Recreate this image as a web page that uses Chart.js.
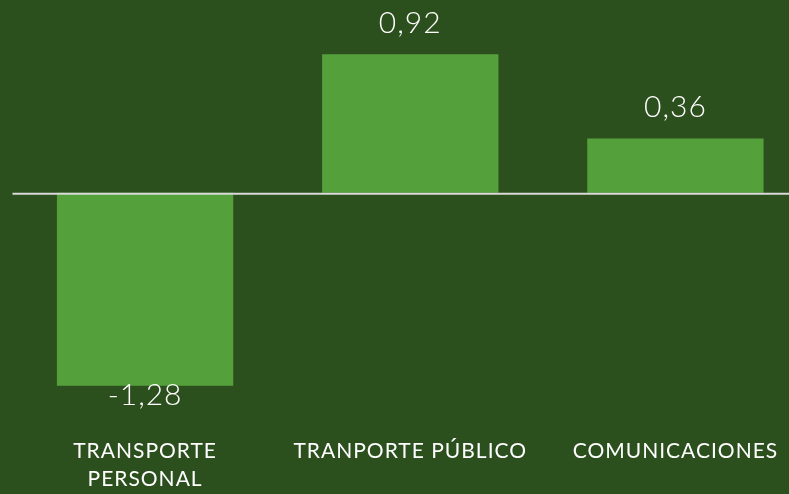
<!DOCTYPE html>
<html lang="es">

<head>
    <meta charset="UTF-8">
    <title>Variación por rubro</title>
    <script src="https://cdn.jsdelivr.net/npm/chart.js"></script>
    <style>
        html, body { margin: 0; padding: 0; background: #2c4f1e; overflow: hidden; }
        #wrap { width: 808px; height: 494px; }
    </style>
</head>

<body>
    <div id="wrap">
        <canvas id="barChart"></canvas>
    </div>

    <script>
        // datos
        const categories = [['TRANSPORTE', 'PERSONAL'], 'TRANPORTE PÚBLICO', 'COMUNICACIONES'];
        const values = [-1.28, 0.92, 0.36];
        const valueLabels = ['-1,28', '0,92', '0,36'];

        const fontFamily = 'Lato, "Open Sans", sans-serif';

        // etiquetas de valor + linea del cero
        const extrasPlugin = {
            id: 'extras',
            beforeDraw(chart) {
                // letras un poco mas abiertas (Century Gothic es ancha)
                chart.ctx.letterSpacing = '1px';
            },
            afterDatasetsDraw(chart) {
                const ctx = chart.ctx;
                const y = chart.scales.y;
                const area = chart.chartArea;
                const y0 = y.getPixelForValue(0);

                ctx.save();
                ctx.strokeStyle = '#d9d9d9';
                ctx.lineWidth = 2;
                ctx.beginPath();
                ctx.moveTo(area.left, y0 + 1);
                ctx.lineTo(area.right, y0 + 1);
                ctx.stroke();

                ctx.fillStyle = '#ffffff';
                ctx.letterSpacing = '1px';
                ctx.font = '300 30px ' + fontFamily;
                ctx.textAlign = 'center';
                ctx.textBaseline = 'middle';
                chart.getDatasetMeta(0).data.forEach((bar, i) => {
                    const v = values[i];
                    const ty = v >= 0 ? bar.y - 31 : bar.y + 10;
                    ctx.fillText(valueLabels[i], bar.x, ty);
                });
                ctx.restore();
            }
        };

        const ctx = document.getElementById('barChart').getContext('2d');
        const chart = new Chart(ctx, {
            type: 'bar',
            data: {
                labels: categories,
                datasets: [{
                    data: values,
                    backgroundColor: '#54a13b',
                    borderWidth: 0,
                    barPercentage: 0.665,
                    categoryPercentage: 1
                }]
            },
            options: {
                responsive: true,
                maintainAspectRatio: false,
                animation: false,
                layout: { padding: { top: 12, left: 12.5, right: 0, bottom: 3 } },
                plugins: {
                    legend: { display: false },
                    tooltip: { enabled: false }
                },
                scales: {
                    x: {
                        grid: { display: false },
                        border: { display: false },
                        afterFit(scale) {
                            scale.height = 57;
                        },
                        ticks: {
                            color: '#ffffff',
                            padding: -5,
                            maxRotation: 0,
                            autoSkip: false,
                            font: { family: fontFamily, size: 21, lineHeight: 1.35 }
                        }
                    },
                    y: {
                        display: false,
                        min: -1.6,
                        max: 1.2
                    }
                }
            },
            plugins: [extrasPlugin]
        });
    </script>
</body>

</html>
